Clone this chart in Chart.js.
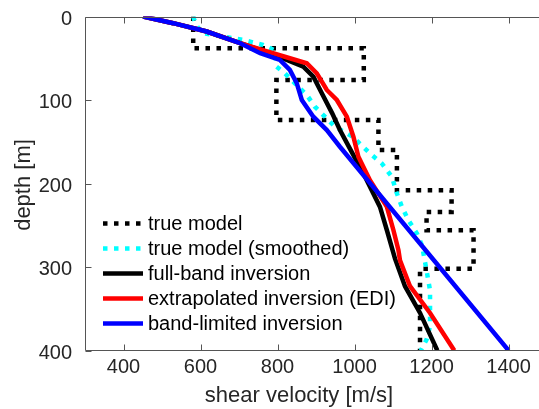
<!DOCTYPE html>
<html><head><meta charset="utf-8">
<script src="https://cdn.jsdelivr.net/npm/chart.js@4/dist/chart.umd.min.js"></script>
<style>html,body{margin:0;padding:0;overflow:hidden;background:#fff}#wrap{width:539px;height:409px;position:relative}</style>
</head><body><div id="wrap"><canvas id="c" width="539" height="409"></canvas></div>
<script>
// ---- data ----
const xTicks = [400, 600, 800, 1000, 1200, 1400];
const yTicks = [0, 100, 200, 300, 400];
const xTitle = 'shear velocity [m/s]';
const yTitle = 'depth [m]';
const seriesLabels = ['true model', 'true model (smoothed)', 'full-band inversion', 'extrapolated inversion (EDI)', 'band-limited inversion'];

const trueDepth = [0, 38, 38, 76, 76, 124, 124, 160, 160, 208, 208, 234, 234, 256, 256, 302, 302, 400];
const trueVel   = [581, 581, 1024, 1024, 797, 797, 1062, 1062, 1110, 1110, 1252, 1252, 1187, 1187, 1309, 1309, 1170, 1170];

const smoothDepth = [0, 10, 20, 24, 28, 34, 40, 50, 60, 68, 80, 94, 108, 120, 132, 144, 164, 176, 192, 212, 228, 244, 260, 274, 284, 304, 328, 348, 371, 387, 400];
const smoothVel   = [581, 588, 606, 658, 710, 762, 790, 795, 797, 819, 845, 876, 897, 923, 949, 995, 1040, 1071, 1097, 1110, 1123, 1140, 1162, 1175, 1179, 1187, 1196, 1196, 1196, 1187, 1172];

const fullDepth = [0, 8, 18, 32, 40, 52, 60, 72, 92, 116, 136, 160, 188, 228, 256, 290, 323, 355, 400];
const fullVel   = [451, 529, 616, 703, 755, 824, 867, 893, 915, 942, 962, 990, 1023, 1066, 1084, 1105, 1131, 1170, 1215];

const ediDepth = [0, 8, 18, 32, 40, 50, 56, 68, 88, 100, 120, 144, 168, 196, 228, 256, 280, 292, 323, 355, 400];
const ediVel   = [451, 529, 616, 703, 760, 832, 876, 902, 928, 954, 980, 997, 1010, 1040, 1084, 1101, 1114, 1118, 1144, 1196, 1259];

const bandDepth = [0, 8, 18, 32, 44, 52, 64, 80, 100, 120, 136, 156, 400];
const bandVel   = [451, 529, 616, 703, 755, 806, 832, 850, 863, 893, 928, 962, 1400];

// ---- build chart ----
function pts(v, d) { return v.map((x, i) => ({ x: x, y: d[i] })); }
const FONT = '"Liberation Sans", Arial, Helvetica, sans-serif';
const TXT = '#262626';
const AXIS = '#555555';

const styles = [
  { color: '#000000', dash: [4.5, 6.5], order: 5 },
  { color: '#00ffff', dash: [4.5, 6.5], order: 4 },
  { color: '#000000', dash: [], order: 3 },
  { color: '#ff0000', dash: [], order: 2 },
  { color: '#0000ff', dash: [], order: 1 }
];
const seriesData = [pts(trueVel, trueDepth), pts(smoothVel, smoothDepth), pts(fullVel, fullDepth), pts(ediVel, ediDepth), pts(bandVel, bandDepth)];

const datasets = seriesData.map((d, i) => ({
  label: seriesLabels[i],
  data: d,
  showLine: true,
  borderColor: styles[i].color,
  backgroundColor: styles[i].color,
  borderWidth: 4.5,
  borderDash: styles[i].dash,
  borderCapStyle: 'butt',
  borderJoinStyle: 'miter',
  pointRadius: 0,
  tension: 0,
  fill: false,
  order: styles[i].order
}));

const decor = {
  id: 'decor',
  afterDraw(chart) {
    const ctx = chart.ctx, a = chart.chartArea, xs = chart.scales.x, ys = chart.scales.y;
    ctx.save();
    ctx.strokeStyle = AXIS;
    ctx.lineWidth = 1;
    const L = Math.round(a.left) + 0.5, T = Math.round(a.top) + 0.5, B = Math.round(a.bottom) - 0.5, R = a.right;
    ctx.beginPath();
    ctx.moveTo(R, T); ctx.lineTo(L, T); ctx.lineTo(L, B); ctx.lineTo(R, B);
    xTicks.forEach(v => {
      const px = Math.round(xs.getPixelForValue(v)) + 0.5;
      ctx.moveTo(px, B); ctx.lineTo(px, B - 6);
      ctx.moveTo(px, T); ctx.lineTo(px, T + 6);
    });
    yTicks.forEach(v => {
      const py = Math.round(ys.getPixelForValue(v)) + 0.5;
      ctx.moveTo(L, py); ctx.lineTo(L + 6, py);
    });
    ctx.stroke();

    // axis titles
    ctx.fillStyle = TXT;
    ctx.font = '22px ' + FONT;
    ctx.textAlign = 'center';
    ctx.textBaseline = 'middle';
    ctx.fillText(xTitle, 299, 395.5);
    ctx.save();
    ctx.translate(23.5, (a.top + a.bottom) / 2 + 1.5);
    ctx.rotate(-Math.PI / 2);
    ctx.fillText(yTitle, 0, 0);
    ctx.restore();

    // legend
    ctx.font = '20px ' + FONT;
    ctx.textAlign = 'left';
    ctx.textBaseline = 'alphabetic';
    const x0 = a.left + 18, x1 = a.left + 58, tx = a.left + 63;
    chart.data.datasets.forEach((ds, i) => {
      const y = a.top + 207 + i * 25;
      ctx.beginPath();
      ctx.strokeStyle = ds.borderColor;
      ctx.lineWidth = 4.5;
      ctx.lineCap = 'butt';
      ctx.setLineDash(ds.borderDash || []);
      ctx.moveTo(x0, y); ctx.lineTo(x1, y);
      ctx.stroke();
      ctx.setLineDash([]);
      ctx.fillStyle = '#000';
      ctx.fillText(ds.label, tx, y + 6.8);
    });
    ctx.restore();
  }
};

new Chart(document.getElementById('c'), {
  type: 'scatter',
  data: { datasets: datasets },
  options: {
    responsive: false,
    animation: false,
    devicePixelRatio: 1,
    layout: { padding: { top: 16.5, left: 0, right: 0, bottom: 0 } },
    plugins: { legend: { display: false }, tooltip: { enabled: false } },
    scales: {
      x: {
        type: 'linear', position: 'bottom', min: 300, max: 1479,
        grid: { display: false, drawTicks: false }, border: { display: false },
        afterBuildTicks: s => { s.ticks = xTicks.map(v => ({ value: v })); },
        afterFit: s => { s.height = 58.5; s.paddingLeft = 0; s.paddingRight = 0; },
        ticks: { autoSkip: false, maxRotation: 0, padding: 5, color: TXT, font: { family: FONT, size: 20 }, callback: v => String(v) }
      },
      y: {
        type: 'linear', position: 'left', reverse: true, min: 0, max: 400,
        grid: { display: false, drawTicks: false }, border: { display: false },
        afterBuildTicks: s => { s.ticks = yTicks.map(v => ({ value: v })); },
        afterFit: s => { s.width = 85; s.paddingTop = 0; s.paddingBottom = 0; },
        ticks: { autoSkip: false, padding: 13, labelOffset: 2.5, color: TXT, font: { family: FONT, size: 20 }, callback: v => String(v) }
      }
    }
  },
  plugins: [decor]
});
</script></body></html>
